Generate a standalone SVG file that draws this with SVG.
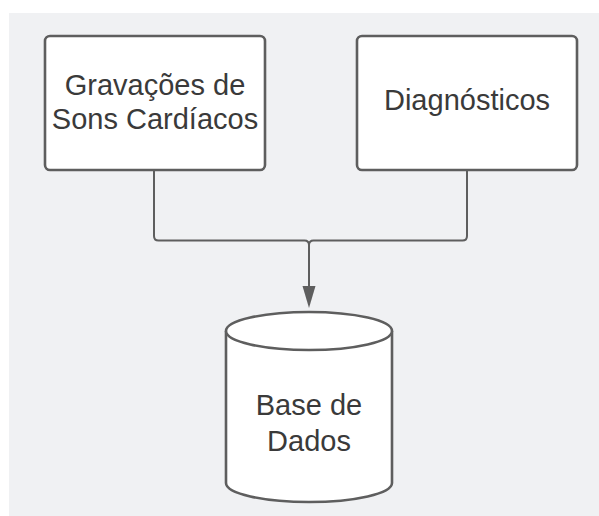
<svg xmlns="http://www.w3.org/2000/svg" width="599" height="516" viewBox="0 0 599 516">
  <defs>
    <style>
      .node { fill: #ffffff; stroke: #5e5e5e; stroke-width: 2.6; }
      .wire { fill: none; stroke: #5e5e5e; stroke-width: 2; }
      .label { font-family: "Liberation Sans", Arial, sans-serif; font-size: 29px; fill: #3a3a3a; text-anchor: middle; }
    </style>
  </defs>

  <!-- canvas -->
  <rect x="0" y="0" width="599" height="516" fill="#ffffff"/>
  <rect x="9" y="13" width="590" height="503" fill="#f0f1f3"/>

  <g id="connectors">
    <path class="wire" d="M154,170 V236 Q154,240.5 158.5,240.5 H304.5 Q309,240.5 309,245"/>
    <path class="wire" d="M467,170 V236 Q467,240.5 462.5,240.5 H313.5 Q309,240.5 309,245"/>
    <path class="wire" d="M309,245 V290"/>
    <polygon points="302.5,286 315.5,286 309,308" fill="#5e5e5e"/>
  </g>

  <g id="recordings">
    <rect class="node" x="45" y="36" width="220" height="134" rx="5"/>
    <text class="label" x="155" y="95">Gravações de</text>
    <text class="label" x="155" y="129">Sons Cardíacos</text>
  </g>

  <g id="diagnostics">
    <rect class="node" x="357" y="36" width="220" height="134" rx="5"/>
    <text class="label" x="467" y="110">Diagnósticos</text>
  </g>

  <g id="database">
    <path class="node" d="M226,331 V483 A83,19 0 0 0 392,483 V331 A83,19 0 0 0 226,331 Z"/>
    <path class="node" fill="none" d="M226,331 A83,19 0 0 0 392,331"/>
    <text class="label" x="309" y="415">Base de</text>
    <text class="label" x="309" y="451">Dados</text>
  </g>
</svg>
